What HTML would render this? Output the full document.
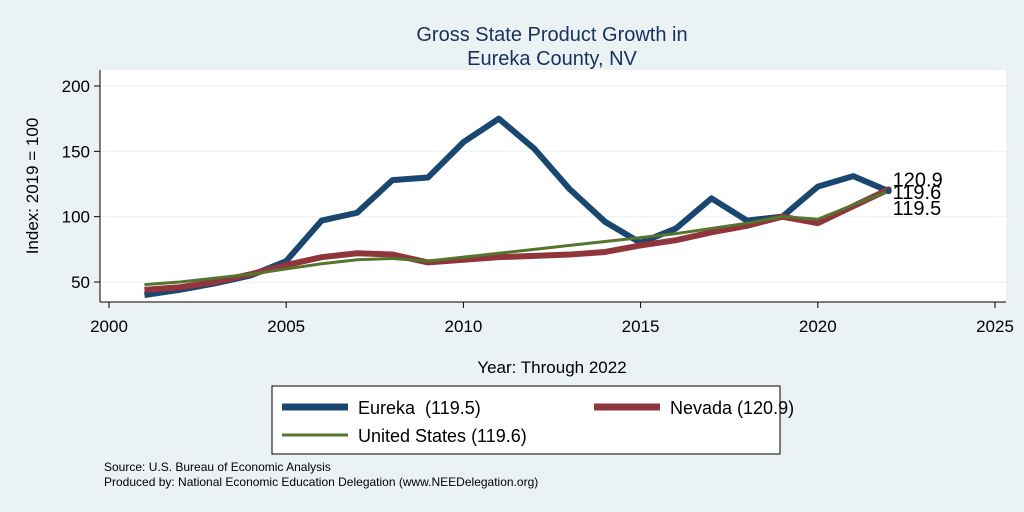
<!DOCTYPE html>
<html><head><meta charset="utf-8"><style>
body{margin:0;background:#eaf2f3;}
svg{display:block;font-family:"Liberation Sans",Arial,sans-serif;}
</style></head><body>
<svg id="chart" width="1024" height="512">
<rect x="0" y="0" width="1024" height="512" fill="#eaf2f3"/>
<rect x="100" y="70" width="906" height="232" fill="#ffffff"/>
<text x="552" y="41" text-anchor="middle" font-size="20" fill="#1a2f5c">Gross State Product Growth in</text>
<text x="552" y="65" text-anchor="middle" font-size="20" fill="#1a2f5c">Eureka County, NV</text>
<g id="grid"></g>
<g id="axes"></g>
<g id="series"></g>
<text x="552" y="373" text-anchor="middle" font-size="17" fill="#000">Year: Through 2022</text>
<text transform="translate(38,186) rotate(-90)" text-anchor="middle" font-size="17" fill="#000">Index: 2019 = 100</text>
<g>
<rect x="272" y="386" width="508" height="68" fill="#fff" stroke="#000" stroke-width="1"/>
<line x1="282" y1="407" x2="348" y2="407" stroke="#1a476f" stroke-width="7"/>
<text x="358" y="414" font-size="18">Eureka&#160; (119.5)</text>
<line x1="594" y1="407" x2="660" y2="407" stroke="#90353b" stroke-width="7"/>
<text x="670" y="414" font-size="18">Nevada (120.9)</text>
<line x1="282" y1="435" x2="348" y2="435" stroke="#55752f" stroke-width="3"/>
<text x="358" y="442" font-size="18">United States (119.6)</text>
</g>
<text x="104" y="471" font-size="12">Source: U.S. Bureau of Economic Analysis</text>
<text x="104" y="486" font-size="12">Produced by: National Economic Education Delegation (www.NEEDelegation.org)</text>
</svg>
<script>
const years=[2001,2002,2003,2004,2005,2006,2007,2008,2009,2010,2011,2012,2013,2014,2015,2016,2017,2018,2019,2020,2021,2022];
const eureka=[40,44,49,55,66,97,103,128,130,157,175,152,121,96,80,91,114,97,100,123,131,119.5];
const nevada=[44,46,50,56,63,69,72,71,65,67,69,70,71,73,78,82,88,93,100,95,108,120.9];
const us=[48,50,53,56,60,64,67,68,66,69,72,75,78,81,84,87,91,95,100,98,109,119.6];
const xTicks=[2000,2005,2010,2015,2020,2025];
const yTicks=[50,100,150,200];
const NS='http://www.w3.org/2000/svg';
function X(v){return 109+(v-2000)*(995-109)/25;}
function Y(v){return 282-(v-50)*(282-86)/150;}
function mk(tag,attrs,parent,text){const e=document.createElementNS(NS,tag);for(const k in attrs)e.setAttribute(k,attrs[k]);if(text!==undefined)e.textContent=text;parent.appendChild(e);return e;}
const grid=document.getElementById('grid'),axes=document.getElementById('axes'),ser=document.getElementById('series');
yTicks.forEach(t=>{
 const g=mk('line',{x1:100,x2:1006,y1:Y(t),y2:Y(t),stroke:'#eaf2f3','stroke-width':1.2},grid);
 
 
 const tk=mk('line',{x1:94,x2:100,y1:Y(t),y2:Y(t),stroke:'#000'},axes);
 
 
 const l=mk('text',{x:90,y:Y(t)+6,'text-anchor':'end','font-size':17},axes,String(t));
 
 
});
const ya=mk('line',{x1:100,x2:100,y1:70,y2:302,stroke:'#000'},axes);


const xa=mk('line',{x1:100,x2:1006,y1:302,y2:302,stroke:'#000'},axes);


xTicks.forEach(t=>{
 const tk=mk('line',{x1:X(t),x2:X(t),y1:302,y2:308,stroke:'#000'},axes);
 
 
 const l=mk('text',{x:X(t),y:332,'text-anchor':'middle','font-size':17},axes,String(t));
 
 
});
function line(vals,color,w,name){
 const p=mk('polyline',{points:vals.map((v,i)=>X(years[i])+','+Y(v)).join(' '),fill:'none',stroke:color,'stroke-width':w,'stroke-linejoin':'round'},ser);
 
 
}
line(eureka,'#1a476f',6,'line-eureka');
line(nevada,'#90353b',6,'line-nevada');
line(us,'#55752f',3,'line-us');
const last=years.length-1;
[[nevada[last],'#90353b',-3,'end-label-nevada'],[us[last],'#55752f',8,'end-label-us'],[eureka[last],'#1a476f',24,'end-label-eureka']].forEach(([v,c,dy,n])=>{
 const d=mk('circle',{cx:X(years[last]),cy:Y(v),r:3,fill:c},ser);
 
 
 const t=mk('text',{x:X(years[last])+4,y:Y(v)+dy,'font-size':20},ser,v.toFixed(1));
 
 
});
</script>
</body></html>
